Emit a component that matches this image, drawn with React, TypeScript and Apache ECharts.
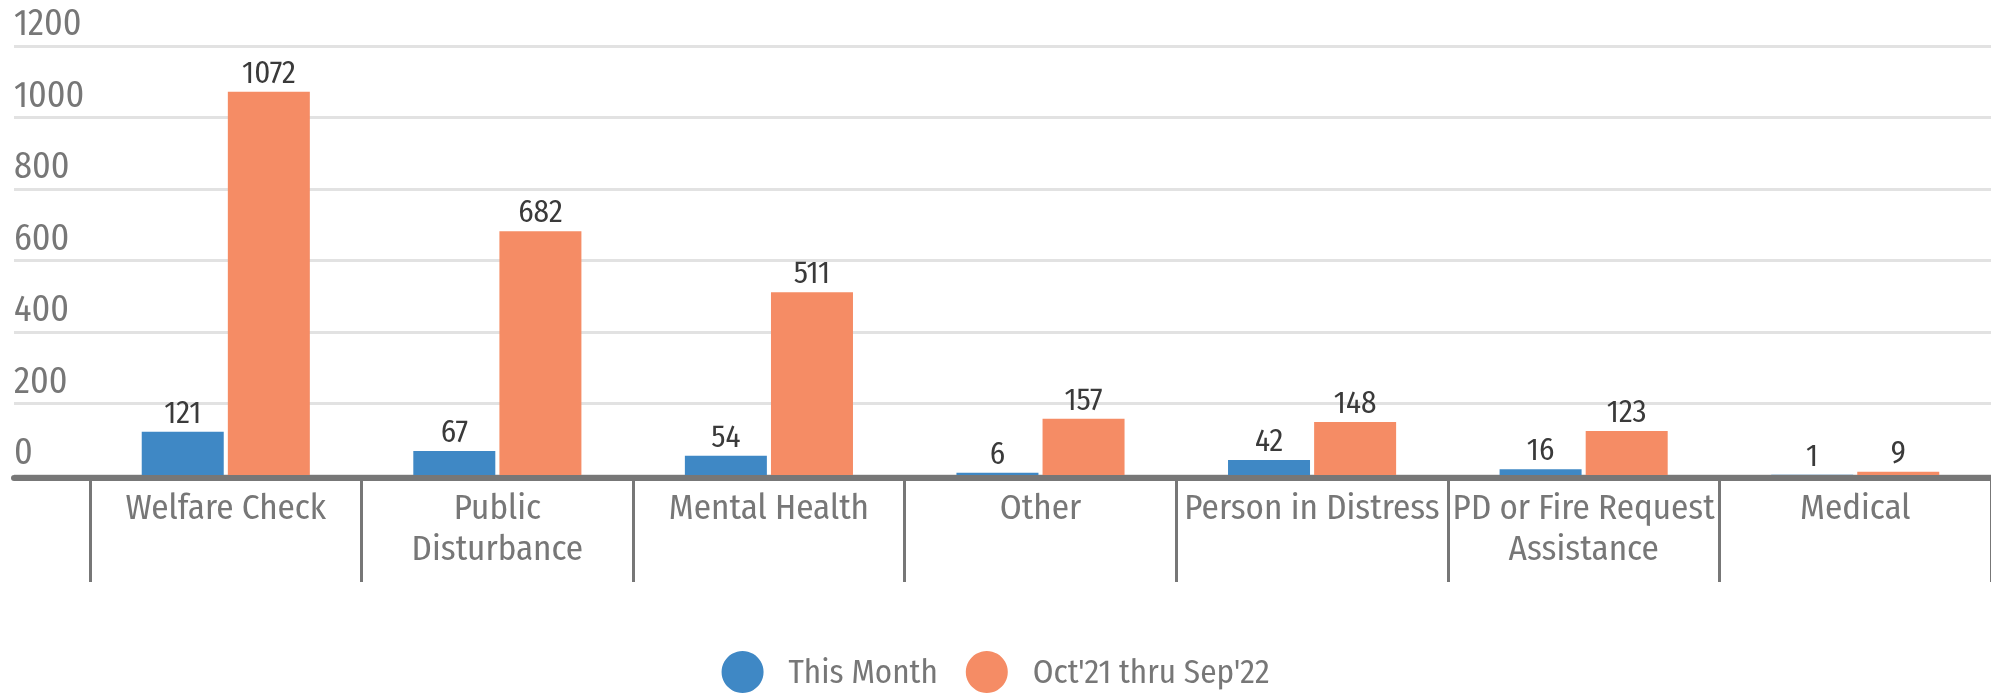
import React, { useEffect, useRef } from "react";
import * as echarts from "echarts";

const categories = [
  "Welfare Check",
  "Public Disturbance",
  "Mental Health",
  "Other",
  "Person in Distress",
  "PD or Fire Request Assistance",
  "Medical",
];
const categoryLabels = [
  "Welfare Check",
  "Public\nDisturbance",
  "Mental Health",
  "Other",
  "Person in Distress",
  "PD or Fire Request\nAssistance",
  "Medical",
];
const thisMonth = [121, 67, 54, 6, 42, 16, 1];
const yearToDate = [1072, 682, 511, 157, 148, 123, 9];
const seriesNames = ["This Month", "Oct'21 thru Sep'22"];
const yTicks = { min: 0, max: 1200, interval: 200 };

const FONT = "'Fira Sans Condensed', 'Liberation Sans Narrow', 'DejaVu Sans Condensed', sans-serif";
const GRAY = "#777777";
const BLUE = "#3f88c5";
const ORANGE = "#f58c65";

export default function App() {
  const ref = useRef<HTMLDivElement>(null);
  useEffect(() => {
    if (!ref.current) return;
    const chart = echarts.init(ref.current, undefined, { renderer: "svg" });
    chart.setOption({
      animation: false,
      textStyle: { fontFamily: FONT },
      grid: [
        { left: 14, right: 0, top: 46, bottom: 218 },
        { left: 90, right: -5, top: 46, bottom: 218 },
      ],
      legend: {
        data: seriesNames,
        left: "center",
        top: 646,
        icon: "circle",
        itemWidth: 42,
        itemHeight: 42,
        itemGap: 28,
        textStyle: {
          fontFamily: FONT,
          fontSize: 33,
          color: GRAY,
          padding: [0, 0, 0, 20],
        },
      },
      xAxis: [
        {
          type: "value",
          gridIndex: 0,
          min: 0,
          max: 1,
          z: 10,
          offset: 3,
          axisLine: { show: true, onZero: false, lineStyle: { color: GRAY, width: 6 } },
          axisTick: { show: false },
          axisLabel: { show: false },
          splitLine: { show: false },
        },
        {
          type: "category",
          gridIndex: 1,
          data: categories,
          axisLine: { show: false },
          axisTick: {
            show: true,
            length: 107,
            lineStyle: { color: GRAY, width: 3 },
          },
          axisLabel: {
            interval: 0,
            margin: 11,
            color: GRAY,
            fontFamily: FONT,
            fontSize: 35,
            lineHeight: 41,
            formatter: (_v: string, i: number) => categoryLabels[i],
          },
          splitLine: { show: false },
        },
      ],
      yAxis: [
        {
          type: "value",
          gridIndex: 0,
          min: yTicks.min,
          max: yTicks.max,
          interval: yTicks.interval,
          axisLine: { show: false },
          axisTick: { show: false },
          splitLine: { show: true, lineStyle: { color: "#e2e2e2", width: 3 } },
          axisLabel: {
            inside: true,
            margin: 0,
            align: "left",
            verticalAlign: "bottom",
            padding: [0, 0, 5, 0],
            color: GRAY,
            fontFamily: FONT,
            fontSize: 36,
            formatter: (v: number) => String(v),
          },
        },
        {
          type: "value",
          gridIndex: 1,
          min: yTicks.min,
          max: yTicks.max,
          interval: yTicks.interval,
          show: false,
          splitLine: { show: false },
        },
      ],
      series: [
        {
          name: seriesNames[0],
          type: "bar",
          xAxisIndex: 1,
          yAxisIndex: 1,
          data: thisMonth,
          barWidth: 82,
          barGap: "5%",
          itemStyle: { color: BLUE },
          label: {
            show: true,
            position: "top",
            distance: 4,
            color: "#3a3a3a",
            fontFamily: FONT,
            fontSize: 31,
          },
        },
        {
          name: seriesNames[1],
          type: "bar",
          xAxisIndex: 1,
          yAxisIndex: 1,
          data: yearToDate,
          barWidth: 82,
          barGap: "5%",
          itemStyle: { color: ORANGE },
          label: {
            show: true,
            position: "top",
            distance: 4,
            color: "#3a3a3a",
            fontFamily: FONT,
            fontSize: 31,
          },
        },
      ],
    });
    return () => chart.dispose();
  }, []);
  return (
    <div
      ref={ref}
      style={{ position: "fixed", left: 0, top: 0, width: 1991, height: 693 }}
    />
  );
}
